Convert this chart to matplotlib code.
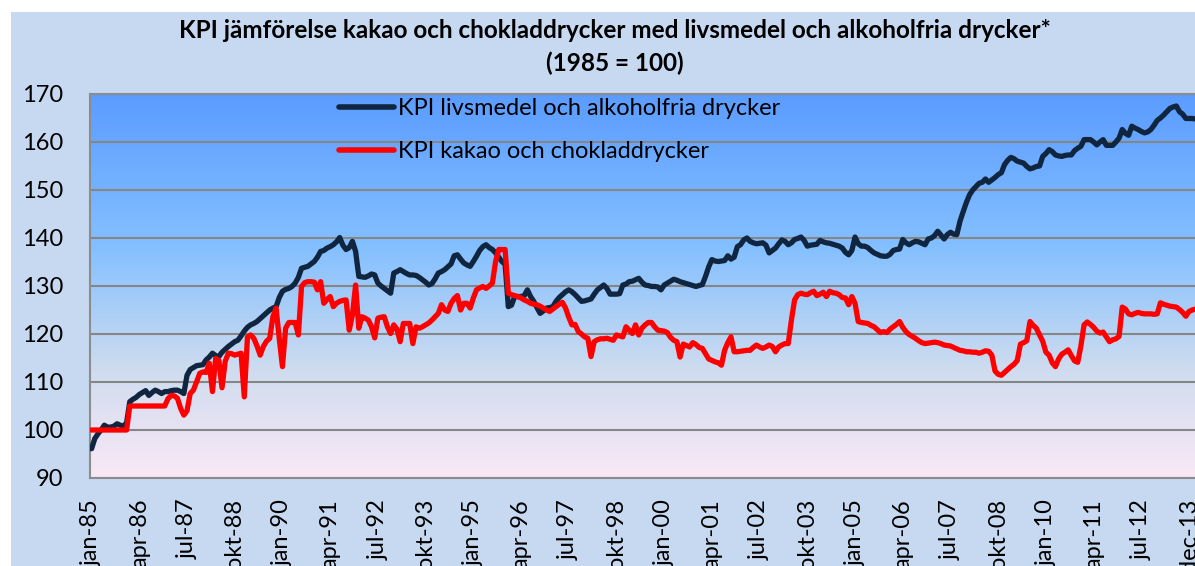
import numpy as np
import matplotlib
matplotlib.use("Agg")
import matplotlib.pyplot as plt
from matplotlib.colors import LinearSegmentedColormap
from matplotlib.patches import Rectangle

plt.rcParams['font.family'] = ['Lato', 'DejaVu Sans']

title = "KPI jämförelse kakao och chokladdrycker med livsmedel och alkoholfria drycker*\n(1985 = 100)"
series_names = ["KPI livsmedel och alkoholfria drycker", "KPI kakao och chokladdrycker"]

tick_labels = ["jan-85", "apr-86", "jul-87", "okt-88", "jan-90", "apr-91", "jul-92", "okt-93",
               "jan-95", "apr-96", "jul-97", "okt-98", "jan-00", "apr-01", "jul-02", "okt-03",
               "jan-05", "apr-06", "jul-07", "okt-08", "jan-10", "apr-11", "jul-12", "dec-13"]

# monthly index values jan-85 .. dec-13
kpi_food = [
    96.1, 98.2, 99.2, 100.0, 101.0, 100.6, 100.6, 100.8, 101.3, 101.0, 100.8, 101.5,
    105.9, 106.4, 106.8, 107.4, 107.8, 108.2, 107.2, 107.8, 108.3, 108.0, 107.6, 108.0,
    108.0, 108.2, 108.3, 108.3, 108.0, 107.6, 111.4, 112.6, 113.0, 113.4, 113.5, 113.6,
    114.6, 115.2, 116.0, 115.5, 115.3, 116.2, 116.8, 117.4, 117.9, 118.4, 118.7, 119.6,
    120.6, 121.4, 121.9, 122.2, 122.6, 123.2, 123.8, 124.4, 125.0, 125.4, 125.7, 127.6,
    128.9, 129.3, 129.5, 129.9, 130.6, 131.8, 133.7, 133.9, 134.1, 134.6, 135.1, 136.0,
    137.2, 137.4, 137.9, 138.2, 138.6, 139.2, 140.1, 138.5, 137.6, 138.0, 139.3, 137.2,
    132.0, 131.9, 131.8, 132.1, 132.5, 132.3, 130.6, 130.0, 129.5, 129.0, 128.5, 132.7,
    133.0, 133.4, 133.0, 132.6, 132.3, 132.3, 132.2, 131.8, 131.3, 130.8, 130.2, 130.5,
    131.5, 132.7, 133.0, 133.4, 134.0, 134.6, 136.3, 136.5, 135.6, 134.8, 134.4, 134.1,
    135.1, 136.2, 137.4, 138.2, 138.6, 138.0, 137.6, 136.9, 136.0, 135.1, 134.5, 125.7,
    126.0, 127.8, 127.8, 127.8, 128.0, 129.2, 127.8, 126.8, 125.5, 124.3, 124.8, 125.4,
    125.5, 125.7, 126.8, 127.6, 128.2, 128.8, 129.2, 128.8, 128.2, 127.5, 126.8, 126.9,
    127.1, 127.3, 128.3, 129.2, 129.7, 130.2, 129.5, 128.3, 128.3, 128.3, 128.4, 130.2,
    130.4, 130.9, 131.0, 131.3, 131.6, 130.8, 130.2, 130.1, 129.9, 129.9, 129.8, 129.2,
    130.2, 130.6, 131.0, 131.4, 131.2, 130.9, 130.7, 130.5, 130.3, 130.1, 129.9, 130.1,
    130.3, 132.0, 134.0, 135.5, 135.2, 135.1, 135.2, 135.3, 136.3, 135.6, 136.0, 138.2,
    138.6, 139.6, 140.0, 139.3, 139.0, 138.8, 138.9, 139.0, 138.5, 136.9, 137.4, 137.9,
    138.8, 139.6, 139.3, 138.6, 139.0, 139.7, 139.9, 140.2, 139.5, 138.3, 138.5, 138.6,
    138.7, 139.5, 139.2, 139.0, 138.9, 138.7, 138.5, 138.3, 137.9, 137.0, 136.5, 137.4,
    140.2, 138.8, 138.3, 138.3, 138.0, 137.4, 136.9, 136.6, 136.3, 136.2, 136.2, 136.6,
    137.4, 137.6, 137.7, 139.7, 139.0, 138.6, 139.0, 139.3, 139.2, 138.9, 138.6, 139.8,
    140.0, 140.5, 141.4, 140.6, 139.8, 140.7, 141.2, 140.8, 140.7, 143.5, 145.5, 147.4,
    149.0, 150.0, 150.7, 151.4, 151.6, 152.3, 151.6, 152.1, 152.6, 153.2, 153.6, 155.3,
    156.2, 156.8, 156.5, 156.0, 155.8, 155.6, 154.9, 154.4, 154.6, 154.9, 155.0, 157.0,
    157.6, 158.4, 158.0, 157.3, 157.1, 157.0, 157.2, 157.3, 157.3, 158.2, 158.7, 159.1,
    160.5, 160.5, 160.5, 160.0, 159.4, 160.0, 160.5, 159.3, 159.3, 159.3, 160.0, 160.8,
    162.6, 161.8, 161.4, 163.3, 162.9, 162.6, 162.2, 161.9, 162.1, 162.6, 163.5, 164.5,
    165.0, 165.6, 166.3, 167.0, 167.3, 167.5, 166.3, 165.8, 164.9, 164.9, 164.9, 164.8,
]

kpi_cocoa = [
    100.0, 100.0, 100.0, 100.0, 100.0, 100.0, 100.0, 100.0, 100.0, 100.0, 100.0, 100.0,
    105.0, 105.0, 105.0, 105.0, 105.0, 105.0, 105.0, 105.0, 105.0, 105.0, 105.0, 105.0,
    106.5, 107.2, 107.1, 106.6, 104.5, 103.1, 104.0, 107.6, 108.3, 110.0, 111.8, 112.1,
    112.0, 113.9, 108.0, 114.9, 114.5, 108.8, 114.3, 116.0, 115.9, 115.6, 115.8, 116.0,
    106.9, 119.4, 119.8, 119.1, 117.5, 115.6, 117.4, 118.5, 119.1, 123.6, 125.4, 119.0,
    113.2, 121.2, 122.4, 122.4, 122.4, 119.8, 129.9, 130.7, 130.9, 130.9, 130.8, 129.2,
    130.9, 126.4, 127.2, 127.8, 125.7, 126.4, 126.8, 127.0, 127.1, 120.8, 124.0, 130.2,
    121.2, 123.6, 123.3, 122.9, 121.5, 119.2, 123.3, 123.5, 123.6, 121.5, 120.1, 121.9,
    121.0, 118.4, 122.2, 122.2, 122.2, 118.0, 121.5, 121.2, 121.5, 121.9, 122.3, 122.9,
    123.6, 124.3, 126.1, 125.0, 124.7, 126.4, 127.4, 128.0, 125.0, 126.4, 126.4, 125.4,
    127.5, 129.2, 129.6, 129.9, 129.5, 130.0, 130.6, 135.1, 137.6, 137.6, 137.6, 128.5,
    128.2, 128.0, 127.8, 127.5, 127.1, 126.8, 126.4, 126.2, 126.1, 125.8, 125.4, 125.0,
    124.7, 125.2, 125.7, 126.2, 126.6, 125.4, 123.5, 121.9, 122.0, 120.5, 120.0, 119.4,
    119.1, 115.3, 118.4, 118.8, 119.0, 119.0, 119.1, 118.9, 118.7, 119.8, 119.6, 119.4,
    121.5, 120.8, 120.1, 121.9, 119.8, 121.2, 121.9, 122.4, 122.4, 121.5, 120.8, 120.7,
    120.6, 120.3, 119.3, 118.7, 118.4, 115.2, 117.9, 117.6, 117.3, 118.2, 117.8, 117.2,
    117.0, 115.9, 114.8, 114.5, 114.2, 114.0, 113.5, 116.6, 118.2, 119.4, 116.3, 116.3,
    116.4, 116.5, 116.6, 116.6, 117.2, 117.7, 117.3, 117.0, 117.3, 117.7, 117.4, 116.3,
    117.3, 117.7, 118.0, 118.0, 122.9, 127.1, 128.2, 128.5, 128.3, 128.2, 128.6, 128.9,
    128.0, 128.3, 128.7, 127.8, 128.9, 128.6, 128.5, 128.2, 127.6, 127.5, 126.1, 127.8,
    126.4, 122.6, 122.4, 122.3, 122.2, 121.8, 121.5, 120.9, 120.3, 120.5, 120.3, 121.0,
    121.5, 122.0, 122.6, 121.4, 120.5, 119.9, 119.5, 119.1, 118.6, 118.2, 118.0, 118.1,
    118.2, 118.3, 118.2, 118.0, 117.7, 117.6, 117.5, 117.2, 116.9, 116.6, 116.5, 116.3,
    116.3, 116.2, 116.2, 116.0, 116.2, 116.5, 116.4, 115.6, 112.3, 111.6, 111.4, 112.0,
    112.6, 113.2, 113.7, 114.5, 117.9, 118.2, 118.6, 122.6, 121.8, 121.2, 119.8, 118.5,
    116.2, 115.6, 114.0, 113.2, 114.8, 115.8, 116.2, 116.7, 115.5, 114.4, 114.1, 117.5,
    121.9, 122.5, 122.0, 121.4, 120.6, 120.2, 120.4, 119.4, 118.4, 118.8, 119.0, 119.5,
    125.6, 125.2, 124.2, 124.0, 124.3, 124.5, 124.3, 124.2, 124.2, 124.2, 124.1, 124.2,
    126.5, 126.2, 126.0, 125.8, 125.7, 125.6, 125.1, 124.5, 123.7, 124.7, 125.0, 125.2,
]

W, H = 1195, 566
fig = plt.figure(figsize=(W / 100, H / 100), dpi=100)
fig.patch.set_facecolor('white')
fig.patches.append(Rectangle((11 / W, 0), 1, 1 - 12 / H, transform=fig.transFigure,
                             facecolor='#c6d9f1', edgecolor='none', zorder=-10))

ax = fig.add_axes([90 / W, 1 - 478 / H, 1107 / W, (478 - 94) / H])
ax.set_facecolor('none')

grad = LinearSegmentedColormap.from_list('g', [(0.0, '#5b9cff'), (0.40, '#84c0ff'),
                                               (0.72, '#cfdcef'), (1.0, '#fae8f6')])
ax.imshow(np.linspace(0, 1, 256).reshape(-1, 1), cmap=grad, aspect='auto',
          extent=[0, 1, 0, 1], transform=ax.transAxes, zorder=0)

x = np.arange(len(kpi_food))
ax.plot(x, kpi_food, color='#10253f', lw=3.8, solid_capstyle='round',
        solid_joinstyle='round', label=series_names[0], zorder=3)
ax.plot(x, kpi_cocoa, color='#ff0000', lw=3.8, solid_capstyle='round',
        solid_joinstyle='round', label=series_names[1], zorder=3)

ax.set_xlim(-0.5, len(kpi_food) - 0.5)
ax.set_ylim(90, 170)
ax.set_yticks(np.arange(90, 171, 10))
ax.set_xticks(np.arange(len(tick_labels)) * 15)
ax.set_xticklabels(tick_labels, rotation=90, ha='center', va='top')
ax.tick_params(axis='both', length=0, labelsize=17, colors='black')
ax.tick_params(axis='y', pad=19)
ax.tick_params(axis='x', pad=15)
ax.yaxis.grid(True, color='#868686', lw=1.5, zorder=1)
ax.set_axisbelow(True)
for s in ['left', 'top', 'bottom']:
    ax.spines[s].set_color('#8c8c8c')
    ax.spines[s].set_linewidth(1.5)
ax.spines['right'].set_visible(False)

fig.text(615 / W, 1 - 31 / H, title.split('\n')[0], ha='center', va='center',
         fontsize=17.5, fontweight='bold')
fig.text(615 / W, 1 - 63 / H, title.split('\n')[1], ha='center', va='center',
         fontsize=17.5, fontweight='bold')

leg = ax.legend(loc='upper left', bbox_to_anchor=((330 - 90) / 1107, 1.014), frameon=False,
                fontsize=17, handlelength=2.3, handletextpad=0.2, labelspacing=0.92,
                borderaxespad=0.0)
for line in leg.get_lines():
    line.set_linewidth(4.0)

fig.savefig('out.png', dpi=100, facecolor=fig.get_facecolor())
